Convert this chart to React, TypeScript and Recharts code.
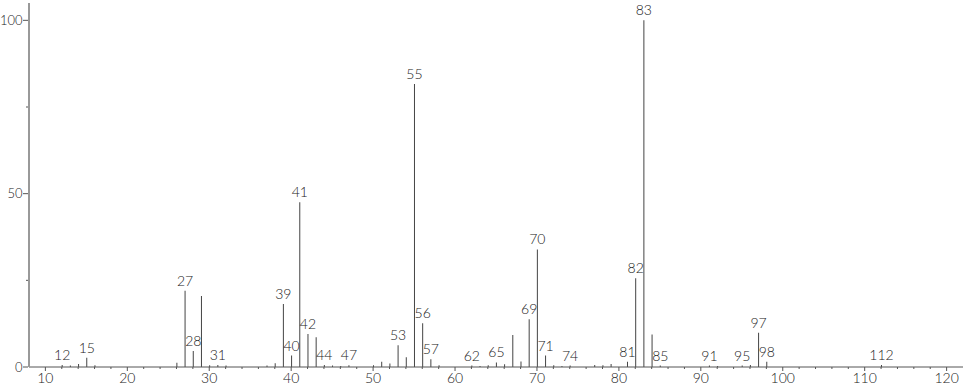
import React from "react";
import { BarChart, Bar, XAxis, YAxis, LabelList } from "recharts";

const mzValues = [
  12, 13, 14, 15, 16, 26, 27, 28, 29, 30, 31, 32, 37, 38, 39, 40, 41, 42, 43, 44, 45, 46, 47,
  50, 51, 52, 53, 54, 55, 56, 57, 58, 62, 63, 64, 65, 66, 67, 68, 69, 70, 71, 72, 73, 74,
  77, 78, 79, 81, 82, 83, 84, 85, 91, 92, 95, 96, 97, 98, 112,
];
const intensities = [
  0.6, 0.4, 0.9, 2.7, 0.5, 1.2, 22.0, 4.6, 20.5, 0.5, 0.6, 0.4, 0.4, 1.1, 18.2, 3.3, 47.5, 9.5, 8.6, 0.6, 0.4, 0.3, 0.5,
  0.5, 1.5, 1.0, 6.3, 2.8, 81.6, 12.6, 2.2, 0.5, 0.4, 0.3, 0.5, 1.3, 0.8, 9.2, 1.6, 13.8, 33.9, 3.3, 0.5, 0.3, 0.4,
  0.6, 0.5, 0.9, 1.5, 25.6, 100, 9.4, 0.4, 0.4, 0.3, 0.4, 0.6, 9.9, 1.5, 0.6,
];
const labeledPeaks = [
  12, 15, 27, 28, 31, 39, 40, 41, 42, 44, 47, 53, 55, 56, 57, 62, 65, 69, 70, 71, 74,
  81, 82, 83, 85, 91, 95, 97, 98, 112,
];
const xTicks = [
  10, 12, 14, 16, 18, 20, 22, 24, 26, 28, 30, 32, 34, 36, 38, 40, 42, 44, 46, 48, 50,
  52, 54, 56, 58, 60, 62, 64, 66, 68, 70, 72, 74, 76, 78, 80, 82, 84, 86, 88, 90,
  92, 94, 96, 98, 100, 102, 104, 106, 108, 110, 112, 114, 116, 118, 120,
];
const yTicks = [0, 25, 50, 75, 100];
const yLabeled = [0, 50, 100];

const data = mzValues.map((mz, i) => ({
  mz,
  intensity: intensities[i],
  label: labeledPeaks.includes(mz) ? String(mz) : "",
}));

const FONT = "Lato, 'Open Sans', sans-serif";

const XTick = (props: any) => {
  const { x, y, payload } = props;
  const major = payload.value % 10 === 0;
  return (
    <g>
      <line x1={x} x2={x} y1={y} y2={y + (major ? 4 : 2)} stroke="#555" strokeWidth={1} />
      {major && (
        <text x={x} y={y + 16} textAnchor="middle" fontSize={14} fontFamily={FONT} fontWeight={300} fill="#222">
          {payload.value}
        </text>
      )}
    </g>
  );
};

const YTick = (props: any) => {
  const { x, y, payload } = props;
  const major = yLabeled.includes(payload.value);
  return (
    <g>
      <line x1={x - (major ? 6 : 3)} x2={x - 1} y1={y} y2={y} stroke="#555" strokeWidth={1} />
      {major && (
        <text x={x - 6.5} y={y} dy="0.35em" textAnchor="end" fontSize={13} fontFamily={FONT} fontWeight={300} fill="#222">
          {payload.value}
        </text>
      )}
    </g>
  );
};

const PeakLabel = (props: any) => {
  const { x, y, width, value } = props;
  if (!value) return null;
  return (
    <text x={x + width / 2} y={y - 5} textAnchor="middle" fontSize={14} fontFamily={FONT} fontWeight={300} fill="#222">
      {value}
    </text>
  );
};

export default function App() {
  return (
    <div style={{ position: "absolute", left: 0, top: 0, background: "#fff" }}>
      <BarChart width={966} height={389} data={data} margin={{ top: 3, right: 3, bottom: 0, left: 0 }}>
        <XAxis
          dataKey="mz"
          type="number"
          domain={[8, 122]}
          ticks={xTicks}
          interval={0}
          height={22}
          tickSize={0}
          tickMargin={0}
          tickLine={false}
          tick={<XTick />}
          axisLine={{ stroke: "#555", strokeWidth: 1 }}
          allowDataOverflow
        />
        <YAxis
          type="number"
          domain={[0, 105]}
          ticks={yTicks}
          interval={0}
          width={29}
          tickSize={0}
          tickMargin={0}
          tickLine={false}
          tick={<YTick />}
          axisLine={{ stroke: "#999", strokeWidth: 2 }}
          allowDataOverflow
        />
        <Bar dataKey="intensity" barSize={1} fill="#444" isAnimationActive={false}>
          <LabelList dataKey="label" content={<PeakLabel />} />
        </Bar>
      </BarChart>
    </div>
  );
}
